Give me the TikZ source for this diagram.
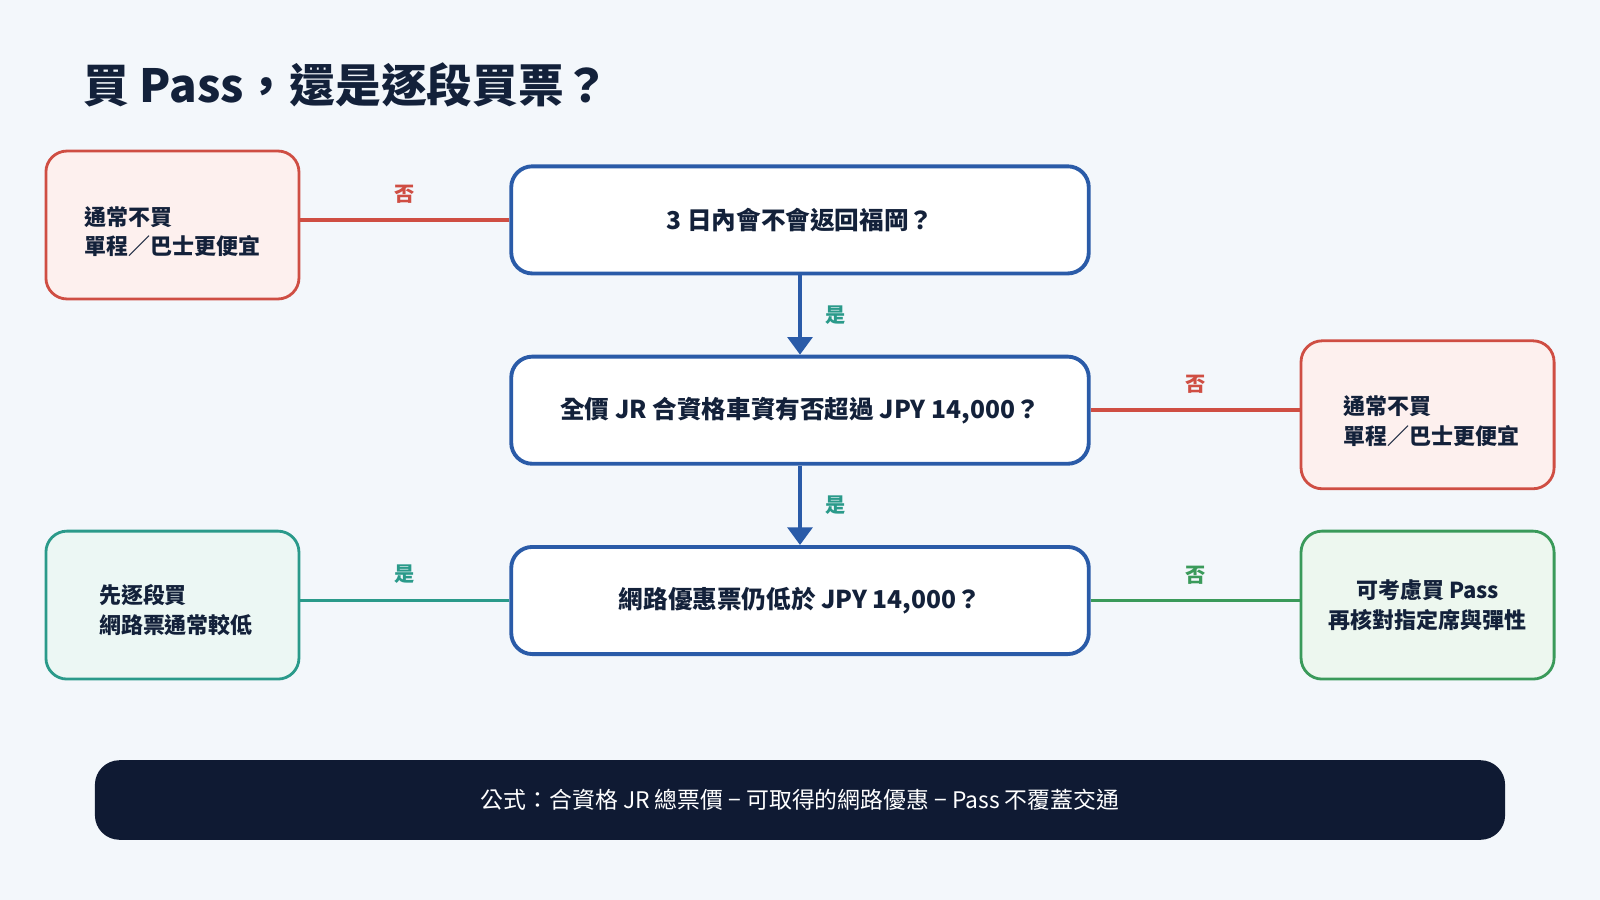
\documentclass[tikz,border=0pt]{standalone}
\usepackage{fontspec}
\setmainfont{Noto Sans CJK TC}
\usetikzlibrary{arrows.meta}
\definecolor{bg}{HTML}{F3F7FB}
\definecolor{navy}{HTML}{13213A}
\definecolor{qblue}{HTML}{2A5BA8}
\definecolor{rline}{HTML}{CF4E43}
\definecolor{rfill}{HTML}{FDF0EE}
\definecolor{tline}{HTML}{2A9A8A}
\definecolor{tfill}{HTML}{ECF7F4}
\definecolor{gline}{HTML}{3A9A5A}
\definecolor{gfill}{HTML}{EDF7EF}
\definecolor{bar}{HTML}{0F1A33}
\begin{document}
\begin{tikzpicture}[x=0.0204cm,y=-0.0204cm,
 q/.style={draw=qblue,line width=2.2pt,fill=white,rounded corners=12pt,minimum width=566*0.0204cm,minimum height=105*0.0204cm,font=\bfseries\fontsize{14}{17}\selectfont,text=navy},
 side/.style={line width=1.6pt,rounded corners=12pt,minimum width=248*0.0204cm,minimum height=145*0.0204cm,font=\bfseries\fontsize{12.5}{17}\selectfont,text=navy},
 red/.style={side,draw=rline,fill=rfill},
 teal/.style={side,draw=tline,fill=tfill},
 grn/.style={side,draw=gline,fill=gfill},
 lab/.style={font=\bfseries\fontsize{11.5}{13}\selectfont},
 arr/.style={draw=qblue,line width=2.2pt,-{Triangle[length=10pt,width=14pt]}}]
\fill[bg] (0,0) rectangle (1568,882);
\node[anchor=west,font=\bfseries\fontsize{26}{30}\selectfont,text=navy] (title) at (76,83) {買 Pass，還是逐段買票？};
\node[q] (q1) at (784,215.5) {3 日內會不會返回福岡？};
\node[q] (q2) at (784,402) {全價 JR 合資格車資有否超過 JPY 14,000？};
\node[q] (q3) at (784,588.5) {網路優惠票仍低於 JPY 14,000？};
\node[red] (b1) at (169,220.5) {};
\node[anchor=west,align=left,font=\bfseries\fontsize{12.5}{17}\selectfont,text=navy] (t1) at (77,227) {通常不買\\單程／巴士更便宜};
\node[red] (b2) at (1399,406.5) {};
\node[anchor=west,align=left,font=\bfseries\fontsize{12.5}{17}\selectfont,text=navy] (t2) at (1311,413) {通常不買\\單程／巴士更便宜};
\node[teal] (b3) at (169,593) {};
\node[anchor=west,align=left,font=\bfseries\fontsize{12.5}{17}\selectfont,text=navy] (t3) at (91,598) {先逐段買\\網路票通常較低};
\node[grn,align=center] (b4) at (1399,593) {可考慮買 Pass\\再核對指定席與彈性};
\draw[rline,line width=2.2pt] (q1.west) -- (q1.west -| b1.east) node[midway,above=5pt,lab,text=rline] (l1) {否};
\draw[rline,line width=2.2pt] (q2.east) -- (q2.east -| b2.west) node[midway,above=5pt,lab,text=rline] (l2) {否};
\draw[tline,line width=2.2pt] (q3.west) -- (q3.west -| b3.east) node[midway,above=5pt,lab,text=tline] (l3) {是};
\draw[gline,line width=2.2pt] (q3.east) -- (q3.east -| b4.west) node[midway,above=5pt,lab,text=gline] (l4) {否};
\draw[arr] (q1.south) -- (q2.north) node[midway,right=10pt,lab,text=tline] (l5) {是};
\draw[arr] (q2.south) -- (q3.north) node[midway,right=10pt,lab,text=tline] (l6) {是};
\node[fill=bar,rounded corners=14pt,minimum width=1382*0.0204cm,minimum height=78*0.0204cm,text=white,font=\fontsize{13}{16}\selectfont] (bar) at (784,784) {公式：合資格 JR 總票價 − 可取得的網路優惠 − Pass 不覆蓋交通};
\end{tikzpicture}
\end{document}
